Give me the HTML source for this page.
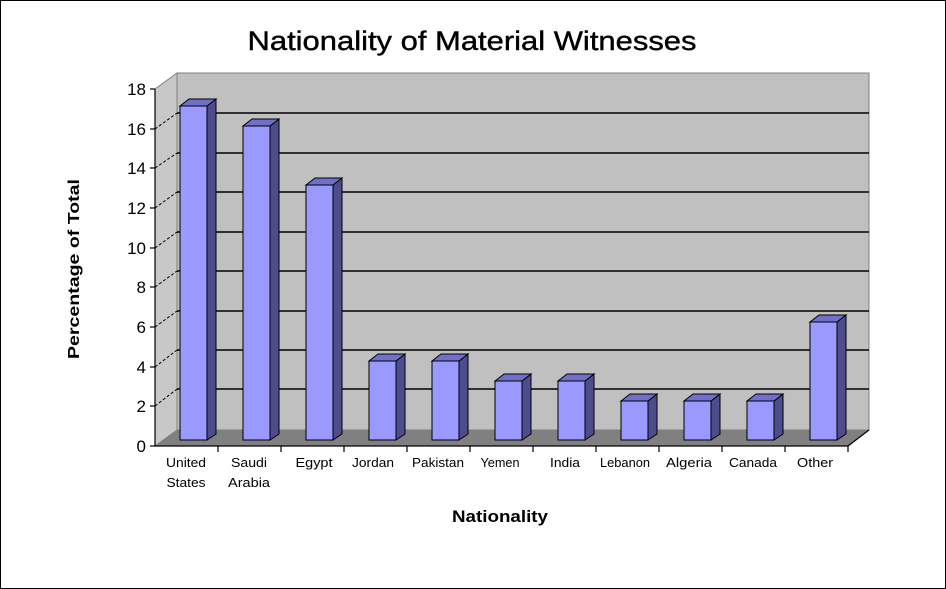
<!DOCTYPE html>
<html><head><meta charset="utf-8"><style>
html,body{margin:0;padding:0;background:#fff}
svg{display:block}
text{font-family:"Liberation Sans",sans-serif}
</style></head><body>
<svg width="946" height="589" viewBox="0 0 946 589" xmlns="http://www.w3.org/2000/svg">
<rect x="0.5" y="0.5" width="945" height="588" fill="#fff" stroke="#000"/>
<text x="472" y="50" font-size="27" text-anchor="middle" fill="#000" stroke="#000" stroke-width="0.4" textLength="449" lengthAdjust="spacingAndGlyphs">Nationality of Material Witnesses</text>
<polygon points="155,89 177,73 177,430 155,446" fill="#c8c8c8" stroke="#808080" stroke-width="1"/>
<rect x="177" y="73" width="692" height="357" fill="#c0c0c0" stroke="#808080" stroke-width="1"/>
<polygon points="155,446 177,430 869,430 848,446" fill="#808080"/>
<g stroke="#000" stroke-width="1.5">
<line x1="177" y1="113" x2="869" y2="113"/>
<line x1="177" y1="153" x2="869" y2="153"/>
<line x1="177" y1="192" x2="869" y2="192"/>
<line x1="177" y1="232" x2="869" y2="232"/>
<line x1="177" y1="271" x2="869" y2="271"/>
<line x1="177" y1="311" x2="869" y2="311"/>
<line x1="177" y1="350" x2="869" y2="350"/>
<line x1="177" y1="389" x2="869" y2="389"/>
</g>
<g stroke="#000" stroke-width="1" stroke-dasharray="3,2">
<line x1="155" y1="129" x2="177" y2="113"/>
<line x1="155" y1="168" x2="177" y2="153"/>
<line x1="155" y1="208" x2="177" y2="192"/>
<line x1="155" y1="248" x2="177" y2="232"/>
<line x1="155" y1="287" x2="177" y2="271"/>
<line x1="155" y1="327" x2="177" y2="311"/>
<line x1="155" y1="367" x2="177" y2="350"/>
<line x1="155" y1="406" x2="177" y2="389"/>
</g>
<g stroke="#000" stroke-width="1.2">
<line x1="155" y1="89" x2="155" y2="446"/>
<line x1="155" y1="446" x2="848" y2="446"/>
<line x1="848" y1="446" x2="869" y2="430"/>
<line x1="150" y1="89" x2="155" y2="89"/><line x1="150" y1="129" x2="155" y2="129"/>
<line x1="150" y1="168" x2="155" y2="168"/><line x1="150" y1="208" x2="155" y2="208"/>
<line x1="150" y1="248" x2="155" y2="248"/><line x1="150" y1="287" x2="155" y2="287"/>
<line x1="150" y1="327" x2="155" y2="327"/><line x1="150" y1="367" x2="155" y2="367"/>
<line x1="150" y1="406" x2="155" y2="406"/><line x1="150" y1="446" x2="155" y2="446"/>
<line x1="218" y1="446" x2="218" y2="452"/><line x1="281" y1="446" x2="281" y2="452"/>
<line x1="344" y1="446" x2="344" y2="452"/><line x1="407" y1="446" x2="407" y2="452"/>
<line x1="470" y1="446" x2="470" y2="452"/><line x1="533" y1="446" x2="533" y2="452"/>
<line x1="596" y1="446" x2="596" y2="452"/><line x1="659" y1="446" x2="659" y2="452"/>
<line x1="722" y1="446" x2="722" y2="452"/><line x1="785" y1="446" x2="785" y2="452"/>
<line x1="848" y1="446" x2="848" y2="452"/>
</g>
<g font-size="17" text-anchor="end" fill="#000">
<text x="146" y="95">18</text><text x="146" y="135">16</text><text x="146" y="174">14</text>
<text x="146" y="214">12</text><text x="146" y="254">10</text><text x="146" y="293">8</text>
<text x="146" y="333">6</text><text x="146" y="373">4</text><text x="146" y="412">2</text>
<text x="146" y="452">0</text>
</g>
<g stroke="#000" stroke-width="1">
<polygon points="207,106 216,99 216,434 207,440" fill="#4d4d8c"/><polygon points="180,106 189,99 216,99 207,106" fill="#7070cc"/><rect x="180" y="106" width="27" height="334" fill="#9999ff"/>
<polygon points="270,126 279,119 279,434 270,440" fill="#4d4d8c"/><polygon points="243,126 252,119 279,119 270,126" fill="#7070cc"/><rect x="243" y="126" width="27" height="314" fill="#9999ff"/>
<polygon points="333,185 342,178 342,434 333,440" fill="#4d4d8c"/><polygon points="306,185 315,178 342,178 333,185" fill="#7070cc"/><rect x="306" y="185" width="27" height="255" fill="#9999ff"/>
<polygon points="396,361 405,354 405,434 396,440" fill="#4d4d8c"/><polygon points="369,361 378,354 405,354 396,361" fill="#7070cc"/><rect x="369" y="361" width="27" height="79" fill="#9999ff"/>
<polygon points="459,361 468,354 468,434 459,440" fill="#4d4d8c"/><polygon points="432,361 441,354 468,354 459,361" fill="#7070cc"/><rect x="432" y="361" width="27" height="79" fill="#9999ff"/>
<polygon points="522,381 531,374 531,434 522,440" fill="#4d4d8c"/><polygon points="495,381 504,374 531,374 522,381" fill="#7070cc"/><rect x="495" y="381" width="27" height="59" fill="#9999ff"/>
<polygon points="585,381 594,374 594,434 585,440" fill="#4d4d8c"/><polygon points="558,381 567,374 594,374 585,381" fill="#7070cc"/><rect x="558" y="381" width="27" height="59" fill="#9999ff"/>
<polygon points="648,401 657,394 657,434 648,440" fill="#4d4d8c"/><polygon points="621,401 630,394 657,394 648,401" fill="#7070cc"/><rect x="621" y="401" width="27" height="39" fill="#9999ff"/>
<polygon points="711,401 720,394 720,434 711,440" fill="#4d4d8c"/><polygon points="684,401 693,394 720,394 711,401" fill="#7070cc"/><rect x="684" y="401" width="27" height="39" fill="#9999ff"/>
<polygon points="774,401 783,394 783,434 774,440" fill="#4d4d8c"/><polygon points="747,401 756,394 783,394 774,401" fill="#7070cc"/><rect x="747" y="401" width="27" height="39" fill="#9999ff"/>
<polygon points="837,322 846,315 846,434 837,440" fill="#4d4d8c"/><polygon points="810,322 819,315 846,315 837,322" fill="#7070cc"/><rect x="810" y="322" width="27" height="118" fill="#9999ff"/>
</g>
<g font-size="13" text-anchor="middle" fill="#000">
<text x="186" y="467" textLength="40" lengthAdjust="spacingAndGlyphs">United</text>
<text x="186" y="487" textLength="39" lengthAdjust="spacingAndGlyphs">States</text>
<text x="249" y="467" textLength="36" lengthAdjust="spacingAndGlyphs">Saudi</text>
<text x="249" y="487" textLength="42" lengthAdjust="spacingAndGlyphs">Arabia</text>
<text x="314" y="467" textLength="37" lengthAdjust="spacingAndGlyphs">Egypt</text>
<text x="373" y="467" textLength="42" lengthAdjust="spacingAndGlyphs">Jordan</text>
<text x="438" y="467" textLength="52" lengthAdjust="spacingAndGlyphs">Pakistan</text>
<text x="500" y="467" textLength="39" lengthAdjust="spacingAndGlyphs">Yemen</text>
<text x="565" y="467" textLength="30" lengthAdjust="spacingAndGlyphs">India</text>
<text x="625" y="467" textLength="50" lengthAdjust="spacingAndGlyphs">Lebanon</text>
<text x="689" y="467" textLength="46" lengthAdjust="spacingAndGlyphs">Algeria</text>
<text x="753" y="467" textLength="48" lengthAdjust="spacingAndGlyphs">Canada</text>
<text x="815" y="467" textLength="36" lengthAdjust="spacingAndGlyphs">Other</text>
</g>
<text x="500" y="522" font-size="17" font-weight="bold" text-anchor="middle" textLength="96" lengthAdjust="spacingAndGlyphs">Nationality</text>
<text transform="translate(79,269) rotate(-90)" font-size="16" font-weight="bold" text-anchor="middle" textLength="180" lengthAdjust="spacingAndGlyphs">Percentage of Total</text>
</svg>
</body></html>
